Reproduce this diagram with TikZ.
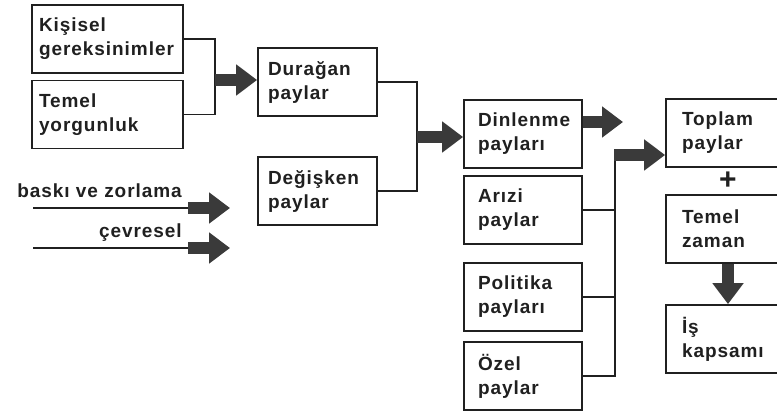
\documentclass[tikz,border=0pt]{standalone}
\usepackage{fontspec}
\setmainfont{Liberation Sans}[LetterSpace=5]
\usetikzlibrary{arrows.meta}
\definecolor{ink}{HTML}{202020}
\definecolor{arrowgray}{HTML}{3A3A3A}
\begin{document}
\begin{tikzpicture}[x=1pt,y=-1pt,
  lbl/.style={font=\bfseries\fontsize{19}{24}\selectfont, text=ink},
  box/.style={lbl, draw=ink, line width=1.8pt, minimum height=68pt, inner ysep=0pt, align=left, anchor=center},
  boxA/.style={box, inner xsep=7pt, text width=137pt},
  boxB/.style={box, inner xsep=10pt, text width=99pt},
  boxC/.style={box, inner xsep=14pt, text width=90pt},
  boxD/.style={box, inner xsep=16pt, text width=92pt},
  conn/.style={draw=ink, line width=1.6pt},
  fat/.style={draw=arrowgray, line width=12pt, -{Triangle[length=21pt,width=30pt]}}
]
\useasboundingbox (0,0) rectangle (777,414);
\clip (0,0) rectangle (777,414);
\fill[white] (0,0) rectangle (777,414);

% left boxes
\node[boxA] (k1) at (107.5,39) {Kişisel\\gereksinimler};
\node[boxA] (k2) at (107.5,114.5) {Temel\\yorgunluk};
% middle boxes
\node[boxB] (d1) at (317.5,82) {Durağan\\paylar};
\node[boxB] (d2) at (317.5,191) {Değişken\\paylar};
% allowance boxes
\node[boxC] (r1) at (523,134) {Dinlenme\\payları};
\node[boxC] (r2) at (523,210) {Arızi\\paylar};
\node[boxC] (r3) at (523,297) {Politika\\payları};
\node[boxC] (r4) at (523,376) {Özel\\paylar};
% right boxes
\node[boxD] (t1) at (728,133) {Toplam\\paylar};
\node[boxD] (t2) at (728,229) {Temel\\zaman};
\node[boxD] (t3) at (728,339) {İş\\kapsamı};
\node[lbl, font=\bfseries\fontsize{30}{30}\selectfont, inner sep=0pt] (plus) at (728,181) {+};

% junctions
\coordinate (j1) at (215,80);
\coordinate (j2) at (417,137);
\coordinate (j3) at (615,155);
\coordinate (e1) at (623,122);

% connectors
\draw[conn] (k1.east) -| (j1) |- (k2.east);
\draw[fat] (j1) -- (j1 -| d1.west);
\draw[conn] (d1.east) -| (j2) |- (d2.east);
\draw[fat] (j2) -- (j2 -| r1.west);
\draw[fat] ([yshift=12pt]r1.east) -- (e1);
\draw[conn] (r4.east) -| (j3);
\draw[conn] (r2.east) -- (r2.east -| j3);
\draw[conn] (r3.east) -- (r3.east -| j3);
\draw[fat] ([xshift=-1pt]j3) -- (j3 -| t1.west);
\draw[fat] (t2.south) -- (t3.north);

% external inputs
\coordinate (a1) at (33,208);
\coordinate (b1) at (188,208);
\coordinate (c1) at (230,208);
\coordinate (a2) at (33,248);
\coordinate (b2) at (188,248);
\coordinate (c2) at (230,248);
\draw[conn] (a1) -- (b1);
\draw[fat] (b1) -- (c1);
\draw[conn] (a2) -- (b2);
\draw[fat] (b2) -- (c2);
\node[lbl, anchor=base east, inner sep=0pt] (s1) at (182,198) {baskı ve zorlama};
\node[lbl, anchor=base east, inner sep=0pt] (s2) at (182,238) {çevresel};
\end{tikzpicture}
\end{document}
